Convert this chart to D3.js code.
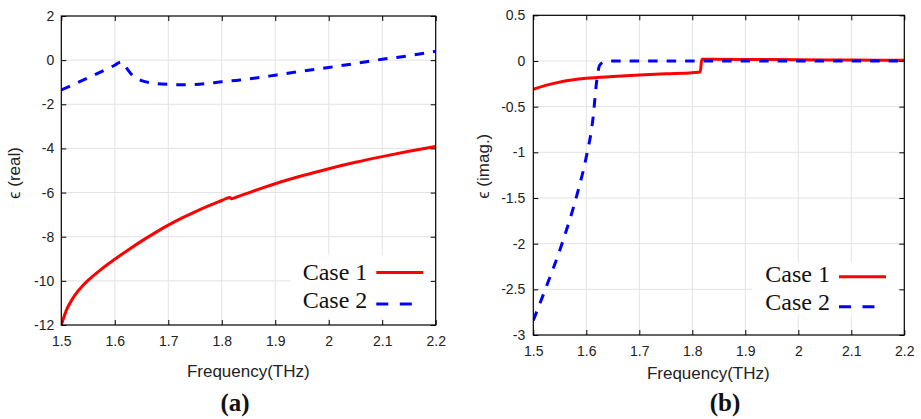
<!DOCTYPE html>
<html>
<head>
<meta charset="utf-8">
<script src="https://cdn.jsdelivr.net/npm/d3@7"></script>
<style>
  body { margin: 0; background: #fff; }
  .grid line { stroke: #e3e3e3; stroke-width: 1; }
</style>
</head>
<body>
<svg id="chart" width="921" height="419"></svg>
<script>
// frequency ticks shared by both panels
const xTicks = [1.5, 1.6, 1.7, 1.8, 1.9, 2.0, 2.1, 2.2];
const realTicks = [2, 0, -2, -4, -6, -8, -10, -12];
const imagTicks = [0.5, 0, -0.5, -1, -1.5, -2, -2.5, -3];
const seriesNames = ["Case 1", "Case 2"];

// (a) real part, [THz, eps]
const realCase1 = [[1.5, -12.0], [1.51, -11.3], [1.52, -10.85], [1.53, -10.5], [1.54, -10.22],
  [1.55, -9.98], [1.575, -9.47], [1.6, -9.02], [1.625, -8.6], [1.65, -8.2], [1.675, -7.825],
  [1.7, -7.475], [1.725, -7.16], [1.75, -6.87], [1.775, -6.6], [1.8, -6.36], [1.815, -6.22],
  [1.818, -6.28], [1.83, -6.18], [1.85, -6.01], [1.875, -5.8], [1.9, -5.6], [1.95, -5.24],
  [2.0, -4.92], [2.05, -4.63], [2.1, -4.37], [2.15, -4.13], [2.2, -3.91]];
const realCase2 = [[1.5, -1.35], [1.55, -0.8], [1.6, -0.23], [1.612, -0.08], [1.62, -0.3],
  [1.632, -0.67], [1.65, -0.93], [1.675, -1.05], [1.7, -1.1], [1.725, -1.12], [1.75, -1.1],
  [1.775, -1.05], [1.8, -0.98], [1.834, -0.9], [1.86, -0.82], [1.9, -0.68], [1.95, -0.5],
  [2.0, -0.33], [2.05, -0.15], [2.1, 0.04], [2.15, 0.2], [2.2, 0.4]];

// (b) imaginary part
const imagCase1 = [[1.5, -0.31], [1.525, -0.265], [1.553, -0.227], [1.6, -0.19], [1.65, -0.17],
  [1.7, -0.154], [1.75, -0.14], [1.8, -0.128], [1.815, -0.12], [1.818, 0.02], [1.9, 0.017],
  [2.0, 0.013], [2.1, 0.01], [2.2, 0.008]];
const imagCase2 = [[1.5, -2.84], [1.522, -2.51], [1.553, -2.02], [1.584, -1.43], [1.6, -1.05],
  [1.613, -0.61], [1.619, -0.25], [1.625, -0.05], [1.632, -0.015], [1.645, 0], [1.7, 0],
  [1.8, 0], [1.9, 0], [2.0, 0], [2.1, 0], [2.2, 0]];

const colors = ["#ff0000", "#0000ff"];
const SANS = '"Liberation Sans", Arial, sans-serif';
const SERIF = '"Liberation Serif", "Times New Roman", serif';

function drawPanel(svg, p) {
  var g = svg.append("g").attr("transform", "translate(" + p.left + "," + p.top + ")");
  var w = p.width, h = p.height;

  var x = d3.scaleLinear().domain([1.5, 2.2]).range([0, w]);
  var y = d3.scaleLinear().domain(p.yDomain).range([h, 0]);

  // grid
  var grid = g.append("g").attr("class", "grid");
  grid.selectAll(".gx").data(xTicks.slice(1, -1)).enter().append("line")
    .attr("x1", d => x(d)).attr("x2", d => x(d)).attr("y1", 0).attr("y2", h);
  grid.selectAll(".gy").data(p.yTicks.slice(1, -1)).enter().append("line")
    .attr("y1", d => y(d)).attr("y2", d => y(d)).attr("x1", 0).attr("x2", w);

  // clip + curves
  g.append("clipPath").attr("id", "clip" + p.id)
    .append("rect").attr("width", w).attr("height", h);

  var line = d3.line().x(d => x(d[0])).y(d => y(d[1])).curve(d3.curveMonotoneX);
  var curves = g.append("g").attr("clip-path", "url(#clip" + p.id + ")");
  curves.append("path").datum(p.series[0]).attr("d", line)
    .attr("fill", "none").attr("stroke", colors[0]).attr("stroke-width", 3);
  curves.append("path").datum(p.series[1]).attr("d", line)
    .attr("fill", "none").attr("stroke", colors[1]).attr("stroke-width", 3)
    .attr("stroke-dasharray", "9.5,9");

  // legend box covers the grid
  var lg = g.append("g").attr("transform", "translate(" + p.legend.x + "," + p.legend.y + ")");
  lg.append("rect").attr("x", 0).attr("y", 0).attr("width", p.legend.w).attr("height", p.legend.h)
    .attr("fill", "#fff");
  seriesNames.forEach(function(name, i) {
    lg.append("text").attr("x", p.legend.textX).attr("y", p.legend.rows[i])
      .attr("text-anchor", "end")
      .style("font-family", SERIF).style("font-size", "24px").style("fill", "#111")
      .text(name);
    lg.append("line")
      .attr("x1", p.legend.textX + 9).attr("x2", p.legend.textX + 56)
      .attr("y1", p.legend.lineRows[i]).attr("y2", p.legend.lineRows[i])
      .attr("stroke", colors[i]).attr("stroke-width", 3)
      .attr("stroke-dasharray", i == 1 ? "12,11.5" : null);
  });

  // axes, ticks pointing inward on all sides
  var bottom = g.append("g").attr("transform", "translate(0," + h + ")")
    .call(d3.axisBottom(x).tickValues(xTicks).tickSize(-5).tickPadding(11).tickFormat(d => String(d)));
  var left = g.append("g")
    .call(d3.axisLeft(y).tickValues(p.yTicks).tickSize(-5).tickPadding(p.yPad).tickFormat(d => String(d)));
  var top = g.append("g").call(d3.axisTop(x).tickValues(xTicks).tickSize(-5).tickFormat(""));
  var right = g.append("g").attr("transform", "translate(" + w + ",0)")
    .call(d3.axisRight(y).tickValues(p.yTicks).tickSize(-5).tickFormat(""));
  [bottom, left, top, right].forEach(function(a) {
    a.select(".domain").remove();
    a.selectAll(".tick line").attr("stroke", "#000");
    a.selectAll(".tick text")
      .attr("font-family", null).attr("font-size", null)
      .style("font-family", SANS).style("font-size", "14px").style("fill", "#222");
  });

  g.append("rect").attr("width", w).attr("height", h)
    .attr("fill", "none").attr("stroke", "#000").attr("stroke-width", 1.2);

  // titles
  g.append("text").attr("x", p.xTitleX).attr("y", h + p.xTitleDy)
    .attr("text-anchor", "middle")
    .style("font-family", SANS).style("font-size", "17px").style("fill", "#222")
    .text("Frequency(THz)");

  g.append("text")
    .attr("transform", "translate(" + p.yTitle.x + "," + p.yTitle.y + ") rotate(-90)")
    .attr("text-anchor", "middle").attr("dominant-baseline", "central")
    .style("font-family", SANS).style("font-size", "17px").style("fill", "#222")
    .text(p.ylabel);

  svg.append("text").attr("x", p.captionX).attr("y", 411)
    .attr("text-anchor", "middle")
    .style("font-family", SERIF).style("font-size", "25px").style("font-weight", "bold").style("fill", "#111")
    .text(p.caption);
}

var svg = d3.select("#chart");

drawPanel(svg, {
  id: "a", left: 61.3, top: 16, width: 374.4, height: 309,
  yDomain: [-12, 2], yTicks: realTicks, yPad: 7,
  series: [realCase1, realCase2],
  ylabel: "\u03F5 (real)", yTitle: {x: -47, y: 157},
  xTitleX: 187, xTitleDy: 51.5, caption: "(a)", captionX: 235,
  legend: {x: 229, y: 239, w: 145, h: 63, textX: 77, rows: [25, 53], lineRows: [17.5, 49]}
});

drawPanel(svg, {
  id: "b", left: 533.3, top: 15.3, width: 371, height: 319.7,
  yDomain: [-3, 0.5], yTicks: imagTicks, yPad: 8,
  series: [imagCase1, imagCase2],
  ylabel: "\u03F5 (imag.)", yTitle: {x: -50, y: 151},
  xTitleX: 175, xTitleDy: 44.5, caption: "(b)", captionX: 725,
  legend: {x: 218.7, y: 246.7, w: 152, h: 53, textX: 78, rows: [20.3, 48], lineRows: [14.7, 44.7]}
});
</script>
</body>
</html>
